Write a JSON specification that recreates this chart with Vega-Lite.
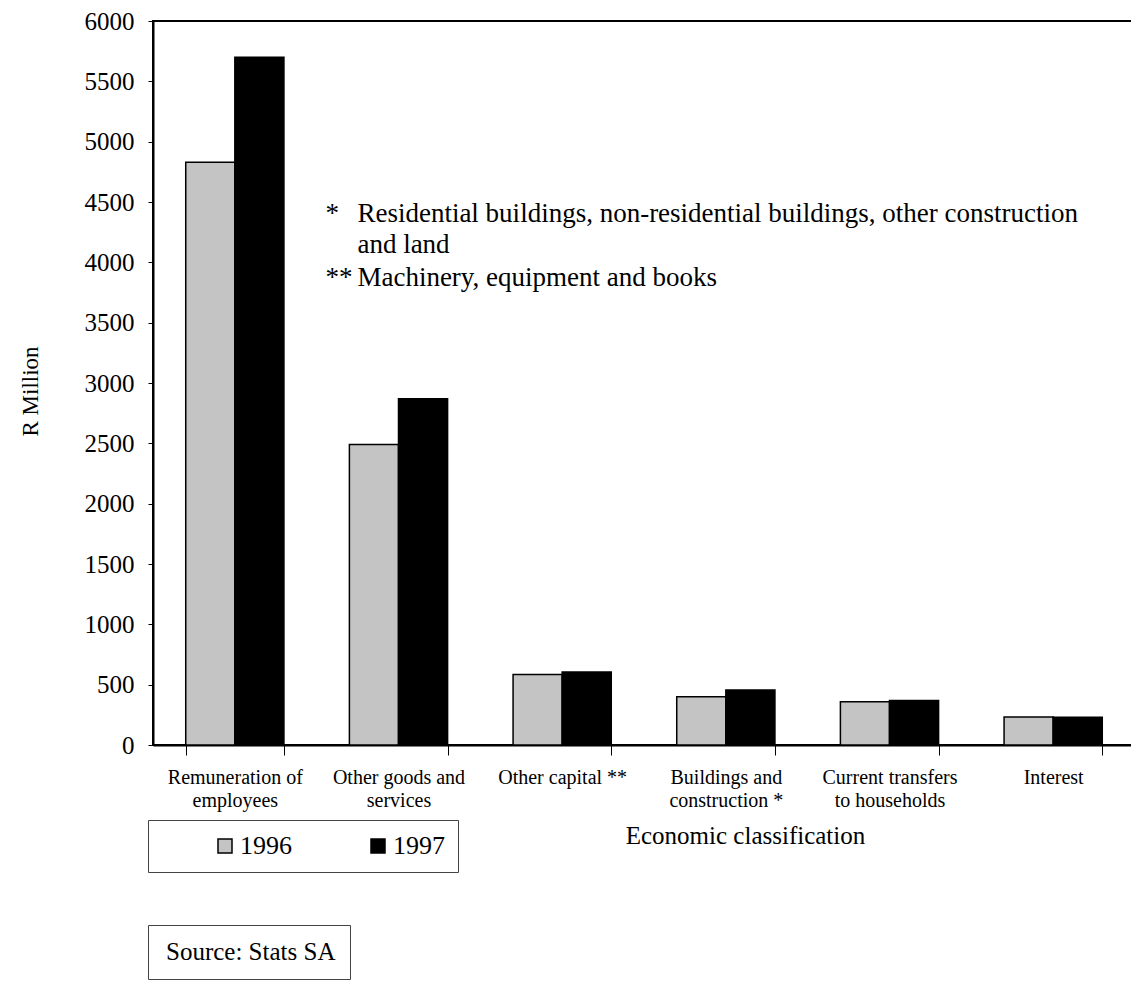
{
  "$schema": "https://vega.github.io/schema/vega-lite/v6.json",
  "width": 982,
  "height": 724,
  "autosize": "none",
  "padding": {"left": 153, "top": 21, "right": 0, "bottom": 236},
  "background": "white",
  "config": {
    "font": "Liberation Serif",
    "view": {"stroke": "black", "strokeWidth": 2},
    "axis": {"grid": false, "labelFont": "Liberation Serif", "titleFont": "Liberation Serif", "labelColor": "black", "titleColor": "black", "domainColor": "black", "tickColor": "black", "titleFontWeight": "normal"},
    "legend": {"labelFont": "Liberation Serif", "labelColor": "black"},
    "text": {"font": "Liberation Serif"}
  },
  "datasets": {
    "bars": [
      {"cat": "Remuneration of|employees", "year": "1996", "value": 4830},
      {"cat": "Remuneration of|employees", "year": "1997", "value": 5700},
      {"cat": "Other goods and|services", "year": "1996", "value": 2490},
      {"cat": "Other goods and|services", "year": "1997", "value": 2870},
      {"cat": "Other capital **", "year": "1996", "value": 585},
      {"cat": "Other capital **", "year": "1997", "value": 605},
      {"cat": "Buildings and|construction *", "year": "1996", "value": 400},
      {"cat": "Buildings and|construction *", "year": "1997", "value": 455},
      {"cat": "Current transfers|to households", "year": "1996", "value": 358},
      {"cat": "Current transfers|to households", "year": "1997", "value": 368},
      {"cat": "Interest", "year": "1996", "value": 232},
      {"cat": "Interest", "year": "1997", "value": 230}
    ],
    "notes": [
      {"cat": "Other goods and|services", "y": 4400, "marker": "*", "text": "Residential buildings, non-residential buildings, other construction"},
      {"cat": "Other goods and|services", "y": 4140, "marker": "", "text": "and land"},
      {"cat": "Other goods and|services", "y": 3870, "marker": "**", "text": "Machinery, equipment and books"}
    ],
    "source": [
      {"src": "Source: Stats SA"}
    ]
  },
  "layer": [
    {
      "data": {"name": "bars"},
      "mark": {"type": "bar", "stroke": "black", "strokeWidth": 1.5},
      "encoding": {
        "x": {
          "field": "cat", "type": "nominal", "sort": null,
          "scale": {"paddingInner": 0.4, "paddingOuter": 0.2},
          "axis": {
            "labelAngle": 0, "labelFontSize": 20, "labelPadding": 12, "labelLineHeight": 23,
            "labelExpr": "split(datum.label, '|')",
            "tickBand": "extent", "tickSize": 10, "tickWidth": 1, "domainWidth": 2,
            "title": "Economic classification", "titleFontSize": 25,
            "titleX": 592, "titleY": 78, "titleAlign": "center", "titleBaseline": "top", "titleAnchor": null
          }
        },
        "xOffset": {"field": "year", "type": "nominal", "scale": {"paddingInner": 0, "paddingOuter": 0}},
        "y": {
          "field": "value", "type": "quantitative",
          "scale": {"domain": [0, 6000], "nice": false},
          "axis": {
            "values": [0, 500, 1000, 1500, 2000, 2500, 3000, 3500, 4000, 4500, 5000, 5500, 6000],
            "format": "d",
            "labelFontSize": 25, "labelPadding": 14, "tickSize": 5, "tickWidth": 1, "domainWidth": 2,
            "title": "R Million", "titleFontSize": 23, "titleAngle": -90,
            "titleX": -123, "titleY": 370, "titleAlign": "center", "titleBaseline": "middle"
          }
        },
        "fill": {
          "field": "year", "type": "nominal",
          "scale": {"domain": ["1996", "1997"], "range": ["#c4c4c4", "#000000"]},
          "legend": {
            "title": null, "orient": "none", "legendX": -5, "legendY": 799,
            "direction": "horizontal", "symbolType": "square", "symbolSize": 196,
            "symbolStrokeColor": "black", "symbolStrokeWidth": 1.5,
            "labelFontSize": 26, "labelOffset": 2, "columnPadding": 22,
            "padding": 13, "symbolOffset": 51,
            "strokeColor": "#444", "fillColor": "white"
          }
        }
      }
    },
    {
      "data": {"name": "notes"},
      "mark": {"type": "text", "align": "left", "baseline": "middle", "fontSize": 27, "dx": -24, "color": "black"},
      "encoding": {
        "x": {"field": "cat", "type": "nominal", "sort": null, "bandPosition": 0},
        "y": {"field": "y", "type": "quantitative"},
        "text": {"field": "marker"}
      }
    },
    {
      "data": {"name": "notes"},
      "mark": {"type": "text", "align": "left", "baseline": "middle", "fontSize": 27, "dx": 8, "color": "black"},
      "encoding": {
        "x": {"field": "cat", "type": "nominal", "sort": null, "bandPosition": 0},
        "y": {"field": "y", "type": "quantitative"},
        "text": {"field": "text"}
      }
    },
    {
      "data": {"name": "source"},
      "mark": {"type": "point", "opacity": 0},
      "encoding": {
        "shape": {
          "field": "src", "type": "nominal",
          "legend": {
            "title": null, "orient": "none", "legendX": -5, "legendY": 904,
            "symbolSize": 0, "symbolStrokeWidth": 0, "symbolOpacity": 0, "labelOffset": -21,
            "labelFontSize": 25, "labelLimit": 0, "padding": 14, "strokeColor": "#444", "fillColor": "white"
          }
        }
      }
    }
  ],
  "resolve": {"scale": {"x": "shared"}}
}
